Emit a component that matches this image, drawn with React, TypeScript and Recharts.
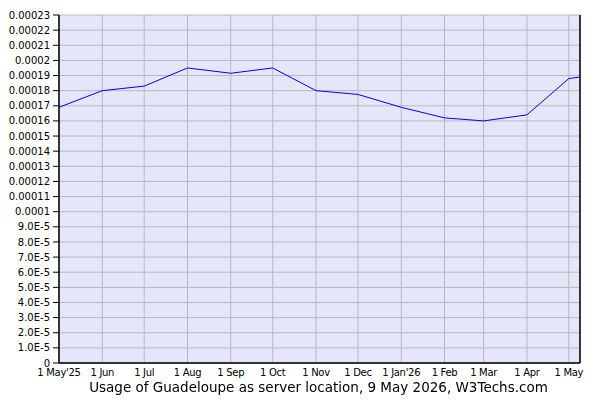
import React from "react";
import { LineChart, Line, XAxis, YAxis, CartesianGrid, ReferenceLine } from "recharts";

// days since 1 May 2025
const dayOffsets = [0, 31, 61, 92, 123, 153, 184, 214, 245, 276, 304, 335, 365, 373];
const usageValues = [
  0.000169, 0.00018, 0.000183, 0.000195, 0.0001915, 0.000195, 0.00018, 0.0001775,
  0.000169, 0.000162, 0.00016, 0.000164, 0.000188, 0.000189,
];

const xTickDays = [0, 31, 61, 92, 123, 153, 184, 214, 245, 276, 304, 335, 365];
const xTickLabels = [
  "1 May'25", "1 Jun", "1 Jul", "1 Aug", "1 Sep", "1 Oct", "1 Nov", "1 Dec",
  "1 Jan'26", "1 Feb", "1 Mar", "1 Apr", "1 May",
];

const yTicks = [
  0, 0.00001, 0.00002, 0.00003, 0.00004, 0.00005, 0.00006, 0.00007, 0.00008, 0.00009,
  0.0001, 0.00011, 0.00012, 0.00013, 0.00014, 0.00015, 0.00016, 0.00017, 0.00018,
  0.00019, 0.0002, 0.00021, 0.00022, 0.00023,
];

const title = "Usage of Guadeloupe as server location, 9 May 2026, W3Techs.com";

const data = dayOffsets.map((d, i) => ({ day: d, value: usageValues[i] }));

const fmtY = (v: number) => {
  if (v === 0) return "0";
  if (v < 0.0000999) return (v / 0.00001).toFixed(1) + "E-5";
  return String(parseFloat(v.toFixed(5)));
};

const fmtX = (v: number) => {
  const i = xTickDays.indexOf(v);
  return i >= 0 ? xTickLabels[i] : "";
};

const font = "'DejaVu Sans', Verdana, sans-serif";

export default function App() {
  return (
    <div style={{ position: "fixed", left: 0, top: 0, width: 600, height: 400, background: "#fff" }}>
      <LineChart
        width={600}
        height={400}
        data={data}
        margin={{ top: 15, right: 20, left: 0, bottom: 0 }}
      >
        <CartesianGrid fill="#e6e6fa" stroke="#b8b8b8" strokeWidth={1} />
        <XAxis
          dataKey="day"
          type="number"
          domain={[0, 373]}
          ticks={xTickDays}
          tickFormatter={fmtX}
          interval={0}
          height={37}
          tickLine={false}
          tickSize={0}
          tickMargin={6}
          axisLine={{ stroke: "#000", strokeWidth: 1.5 }}
          tick={{ fill: "#000", fontSize: 10, fontFamily: font, letterSpacing: -0.3 }}
        />
        <YAxis
          type="number"
          domain={[0, 0.00023]}
          ticks={yTicks}
          tickFormatter={fmtY}
          interval={0}
          width={59}
          tickSize={6}
          tickMargin={3}
          axisLine={{ stroke: "#000", strokeWidth: 1.5 }}
          tickLine={{ stroke: "#000" }}
          tick={{ fill: "#000", fontSize: 10, fontFamily: font }}
        />
        <ReferenceLine x={373} stroke="#000" strokeWidth={1.5} ifOverflow="extendDomain" />
        <Line
          type="linear"
          dataKey="value"
          stroke="#0000ff"
          strokeWidth={1}
          dot={false}
          isAnimationActive={false}
        />
      </LineChart>
      <div
        style={{
          position: "absolute",
          left: 0,
          top: 379,
          width: 637,
          textAlign: "center",
          fontFamily: font,
          fontSize: 13.5,
          color: "#000",
          whiteSpace: "nowrap",
        }}
      >
        {title}
      </div>
    </div>
  );
}
